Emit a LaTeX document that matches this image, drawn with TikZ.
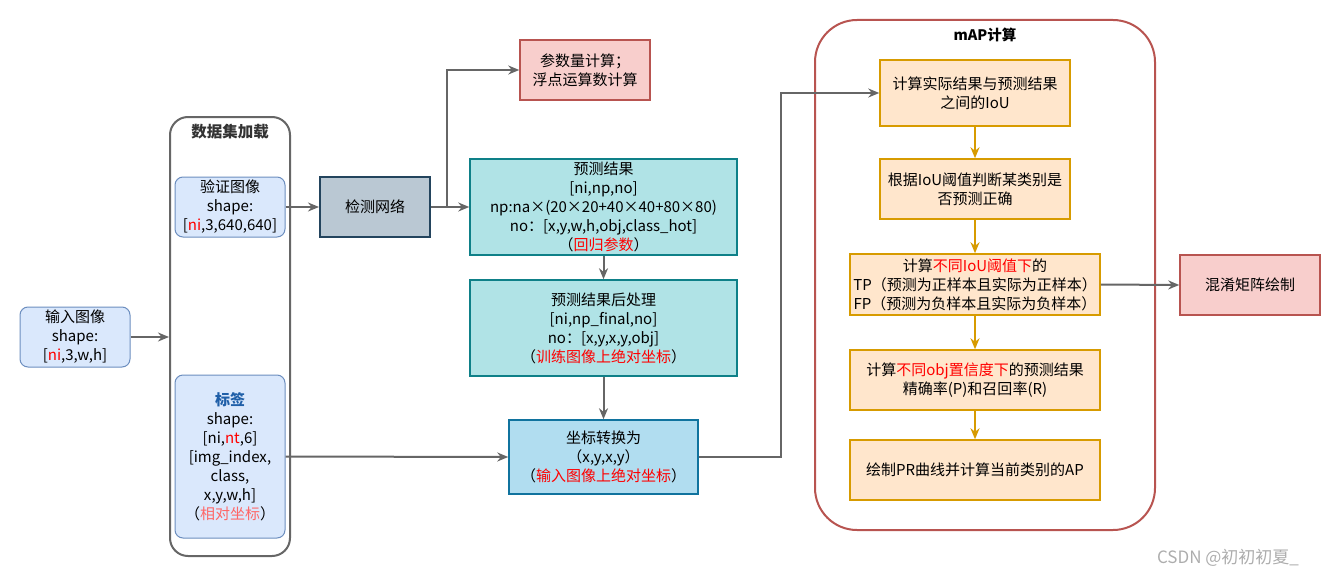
\documentclass[tikz,border=0pt]{standalone}
\usepackage{fontspec}
\setmainfont{Noto Sans CJK SC}
\usetikzlibrary{arrows.meta}
\definecolor{inblue}{HTML}{DAE8FC}
\definecolor{inblueline}{HTML}{6C8EBF}
\definecolor{netfill}{HTML}{BAC8D3}
\definecolor{netline}{HTML}{23445D}
\definecolor{pinkfill}{HTML}{F8CECC}
\definecolor{pinkline}{HTML}{B85450}
\definecolor{tealfill}{HTML}{B0E3E6}
\definecolor{tealline}{HTML}{0E8088}
\definecolor{skyfill}{HTML}{B1DDF0}
\definecolor{skyline}{HTML}{10739E}
\definecolor{orfill}{HTML}{FFE6CC}
\definecolor{orline}{HTML}{D79B00}
\definecolor{wire}{HTML}{666666}
\definecolor{tagblue}{HTML}{1F5FA8}
\definecolor{softred}{HTML}{FF6666}
\tikzset{
  base/.style = {draw, line width=1.5pt, align=center, inner sep=1pt,
    font=\fontsize{15}{19}\selectfont},
  input/.style = {base, line width=1pt, rounded corners=8pt, fill=inblue,
    draw=inblueline, minimum width=110pt},
  holder/.style = {draw, rounded corners=18pt, line width=2pt, fill=white}
}
\tikzset{>={Stealth[length=11pt,width=9pt]}}
\tikzset{
  link/.style = {->, wire, line width=2pt},
  orlink/.style = {->, orline, line width=2pt},
  mapbox/.style = {base, fill=orfill, draw=orline, minimum height=60pt}
}
\newcommand{\hl}[1]{{\color{red}#1}}

\begin{document}
\begin{tikzpicture}[x=1pt,y=-1pt]
  \useasboundingbox (0,0) rectangle (1321,578);
  % containers
  \node[holder, draw=wire, minimum width=120pt, minimum height=439pt] (data) at (230,336.5) {};
  \node[font=\fontsize{15.5}{18}\selectfont\bfseries, text=black!80] (datatitle) at (230,132) {数据集加载};
  \node[holder, draw=pinkline, rounded corners=42pt, minimum width=340pt, minimum height=510pt] (map) at (985,275) {};
  \node[font=\fontsize{14.5}{18}\selectfont\bfseries] (maptitle) at (985,35) {mAP计算};
  % left part
  \node[input, minimum height=60pt] (in) at (75,337) {输入图像\\shape:\\{[}\hl{ni},3,w,h{]}};
  \node[input, minimum height=60pt] (val) at (230,207) {验证图像\\shape:\\{[}\hl{ni},3,640,640{]}};
  \node[input, minimum height=163pt] (tag) at (230,456.5)
    {{\bfseries\color{tagblue}标签}\\shape:\\{[}ni,\hl{nt},6{]}\\{[}img\_index,\\class,\\x,y,w,h{]}\\（{\color{softred}相对坐标}）};
  \node[base, line width=2pt, fill=netfill, draw=netline, minimum width=110pt, minimum height=60pt] (net) at (375,207) {检测网络};
  \node[base, fill=pinkfill, draw=pinkline, minimum width=130pt, minimum height=60pt] (param) at (585,70) {参数量计算；\\浮点运算数计算};
  \node[base, fill=tealfill, draw=tealline, minimum width=267pt, minimum height=96pt] (pred) at (603.5,207)
    {预测结果\\{[}ni,np,no{]}\\np:na×(20×20+40×40+80×80)\\no：{[}x,y,w,h,obj,class\_hot{]}\\（\hl{回归参数}）};
  \node[base, fill=tealfill, draw=tealline, minimum width=267pt, minimum height=96pt] (post) at (603.5,328)
    {预测结果后处理\\{[}ni,np\_final,no{]}\\no：{[}x,y,x,y,obj{]}\\（\hl{训练图像上绝对坐标}）};
  \node[base, fill=skyfill, draw=skyline, minimum width=189pt, minimum height=74pt] (conv) at (603.5,457)
    {坐标转换为\\（x,y,x,y）\\（\hl{输入图像上绝对坐标}）};
  % mAP part
  \node[mapbox, minimum width=190pt, minimum height=66pt] (iou) at (975,93) {计算实际结果与预测结果\\之间的IoU};
  \node[mapbox, minimum width=190pt] (judge) at (975,189) {根据IoU阈值判断某类别是\\否预测正确};
  \node[mapbox, minimum width=250pt, minimum height=61pt] (tp) at (975,284.5)
    {计算\hl{不同IoU阈值下}的\\TP（预测为正样本且实际为正样本）\\FP（预测为负样本且实际为负样本）};
  \node[mapbox, minimum width=250pt] (pr) at (975,380) {计算\hl{不同obj置信度下}的预测结果\\精确率(P)和召回率(R)};
  \node[mapbox, minimum width=250pt] (ap) at (975,470) {绘制PR曲线并计算当前类别的AP};
  \node[base, fill=pinkfill, draw=pinkline, minimum width=140pt, minimum height=60pt] (cm) at (1250,285) {混淆矩阵绘制};
  \node[font=\fontsize{17}{20}\selectfont, text=black!32] (mark) at (1228,558) {CSDN @初初初夏\_};
  % connectors
  \coordinate (split) at (447,207);
  \draw[link] (in.east) -- (in.east -| data.west);
  \draw[link] (val.east) -- (net.west);
  \draw[link] (net.east) -- (pred.west);
  \draw[link] (split) |- (param.west);
  \draw[link] (pred.south) -- (post.north);
  \draw[link] (post.south) -- (conv.north);
  \draw[link] (tag.east) -- (conv.west);
  \draw[link] (conv.east) -- ++(82,0) |- (iou.west);
  \draw[orlink] (iou.south) -- (judge.north);
  \draw[orlink] (judge.south) -- (tp.north);
  \draw[orlink] (tp.south) -- (pr.north);
  \draw[orlink] (pr.south) -- (ap.north);
  \draw[link] (tp.east) -- (cm.west);
\end{tikzpicture}
\end{document}
